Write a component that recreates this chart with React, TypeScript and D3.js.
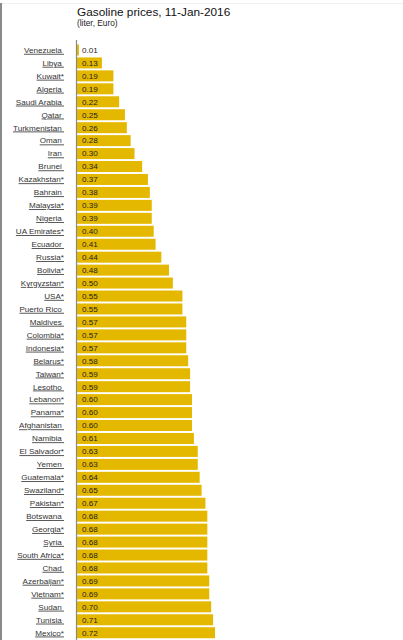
import React from "react";
import * as d3 from "d3";

const countries = [
  "Venezuela", "Libya", "Kuwait*", "Algeria", "Saudi Arabia", "Qatar", "Turkmenistan", "Oman", "Iran", "Brunei",
  "Kazakhstan*", "Bahrain", "Malaysia*", "Nigeria", "UA Emirates*", "Ecuador", "Russia*", "Bolivia*", "Kyrgyzstan*", "USA*",
  "Puerto Rico", "Maldives", "Colombia*", "Indonesia*", "Belarus*", "Taiwan*", "Lesotho", "Lebanon*", "Panama*", "Afghanistan",
  "Namibia", "El Salvador*", "Yemen", "Guatemala*", "Swaziland*", "Pakistan*", "Botswana", "Georgia*", "Syria", "South Africa*",
  "Chad", "Azerbaijan*", "Vietnam*", "Sudan", "Tunisia", "Mexico*",
];
const prices = [
  0.01, 0.13, 0.19, 0.19, 0.22, 0.25, 0.26, 0.28, 0.30, 0.34,
  0.37, 0.38, 0.39, 0.39, 0.40, 0.41, 0.44, 0.48, 0.50, 0.55,
  0.55, 0.57, 0.57, 0.57, 0.58, 0.59, 0.59, 0.60, 0.60, 0.60,
  0.61, 0.63, 0.63, 0.64, 0.65, 0.67, 0.68, 0.68, 0.68, 0.68,
  0.68, 0.69, 0.69, 0.70, 0.71, 0.72,
];
const title = "Gasoline prices, 11-Jan-2016";
const subtitle = "(liter, Euro)";

const W = 403;
const H = 640;
const x0 = 77;
const top = 43.5;
const step = 12.95;

export default function App() {
  const x = d3.scaleLinear().domain([0, 0.72]).range([x0, 215]);
  const y = d3
    .scaleBand<string>()
    .domain(countries)
    .range([top, top + step * countries.length])
    .paddingInner(0.15)
    .paddingOuter(0.075);
  const font = "Arial, 'Liberation Sans', sans-serif";
  return (
    <div style={{ position: "fixed", left: 0, top: 0, background: "#fff" }}>
      <svg width={W} height={H} style={{ display: "block", fontFamily: font }}>
        <rect x={0} y={0} width={W} height={H} fill="#fff" />
        <line x1={1} x2={1} y1={3} y2={H} stroke="#8a8a8a" strokeWidth={2} />
        <line x1={2} x2={W} y1={3.5} y2={3.5} stroke="#f0f0f0" strokeWidth={1} />
        <text x={77} y={15.5} fontSize={11.8} fill="#111">{title}</text>
        <text x={77} y={26} fontSize={8.3} fill="#222">{subtitle}</text>
        {countries.map((c, i) => {
          const yy = y(c)!;
          const label = c.endsWith("*") ? c : c + "\u00a0";
          return (
            <g key={c}>
              <rect x={x(0)} y={yy} width={x(prices[i]) - x(0)} height={y.bandwidth()} fill="#E5B800" />
              <text
                x={64}
                y={yy + y.bandwidth() / 2}
                dy="0.35em"
                textAnchor="end"
                fontSize={8.1}
                fill="#333"
                textDecoration="underline"
              >
                {label}
              </text>
              <text x={82} y={yy + y.bandwidth() / 2} dy="0.35em" fontSize={8.1} fill="#222">
                {d3.format(".2f")(prices[i])}
              </text>
            </g>
          );
        })}
        <line x1={x0 - 0.5} x2={x0 - 0.5} y1={40} y2={H} stroke="#888" strokeWidth={1.2} />
      </svg>
    </div>
  );
}
